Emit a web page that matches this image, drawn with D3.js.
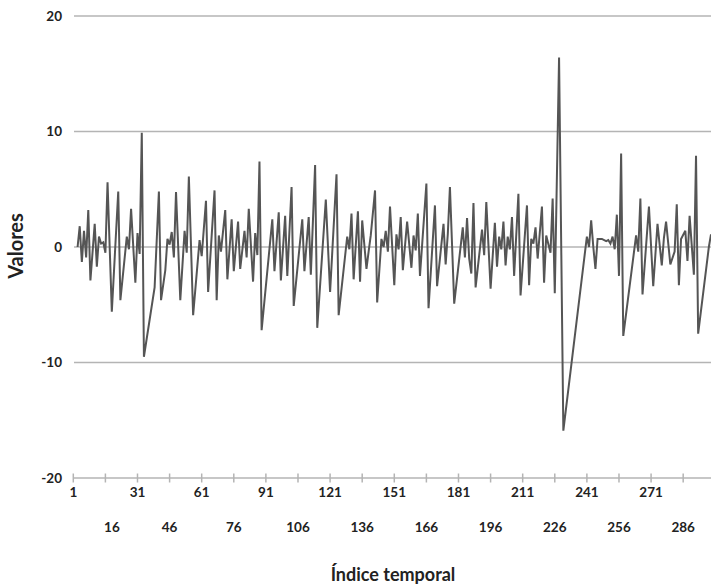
<!DOCTYPE html>
<html><head><meta charset="utf-8">
<script src="https://cdn.jsdelivr.net/npm/d3@7"></script>
<style>body{margin:0;background:#fff}svg{display:block}</style>
</head><body>
<svg id="c" width="711" height="587"></svg>
<script>
const indices = [3,4,5,6,7,8,9,11,12,13,14,15,16,17,19,22,23,26,27,28,30,31,32,33,34,
39,41,42,44,45,46,47,48,49,51,53,54,55,57,60,61,63,64,67,68,
69,70,72,73,75,76,78,79,81,82,83,85,86,87,88,89,94,95,97,98,100,101,103,104,
108,109,111,112,114,115,119,121,124,125,129,130,131,132,134,135,136,138,
139,140,142,143,145,146,147,148,149,151,152,153,154,155,157,159,160,161,162,163,166,167,170,171,
174,175,176,177,179,183,184,185,186,187,188,189,192,193,194,196,198,199,200,201,202,203,204,205,206,207,
209,210,213,214,215,216,217,218,220,221,222,224,225,226,228,230,
241,242,243,244,245,246,248,250,251,252,253,254,255,256,257,258,264,265,266,267,270,272,274,
276,277,278,280,282,283,284,285,287,288,289,291,292,293,298,299];
const values = [0,1.8,-1.3,1.4,-0.9,3.2,-2.9,2.0,-1.7,0.9,0.3,0.4,-0.5,5.6,-5.6,4.8,-4.6,0.9,-0.2,3.3,-3.1,1.2,-0.6,9.9,-9.5,
-3.5,4.8,-4.6,-2.0,0.7,0.2,1.3,-0.9,4.75,-4.6,1.4,-0.5,6.1,-5.9,0.6,-0.8,4.0,-3.9,4.9,-4.6,
1.0,-0.4,3.2,-2.8,2.4,-2.1,2.2,-1.9,1.4,-0.9,3.3,-3.0,1.2,-0.7,7.4,-7.2,2.4,-2.1,3.0,-2.9,2.7,-2.5,5.2,-5.1,
2.4,-2.1,2.6,-2.4,7.1,-7.0,4.1,-3.9,6.3,-5.9,0.9,-0.2,2.9,-2.8,3.1,-3.0,2.3,-1.9,
-0.4,1.0,4.9,-4.8,0.7,0.0,1.4,-0.4,3.5,-3.3,1.1,-0.2,2.6,-2.0,2.2,-1.8,1.0,-0.3,2.9,-2.5,5.5,-5.3,3.6,-3.4,
2.0,-1.5,1.1,5.2,-4.9,1.7,-0.9,2.5,-1.0,-2.3,3.8,-3.5,1.5,-0.7,3.9,-3.6,2.1,-1.7,0.9,-0.2,2.2,-1.6,0.9,-0.2,2.6,-2.5,
4.6,-4.2,3.6,-3.3,0.7,0.3,1.7,-1.0,3.5,-3.1,1.0,-0.5,4.2,-4.0,16.4,-15.9,
0.9,0.0,2.3,0.0,-1.9,0.7,0.7,0.5,0.6,0.3,0.9,-0.2,2.8,-2.5,8.1,-7.7,1.0,-0.4,4.2,-4.1,3.5,-3.4,2.0,
-1.6,0.8,2.2,-1.5,-0.4,3.7,-3.3,0.7,1.4,-1.2,2.7,-2.4,7.9,-7.5,0.0,1.1];
const xTicks = [1,16,31,46,61,76,91,106,121,136,151,166,181,196,211,226,241,256,271,286];
const yTicks = [-20,-10,0,10,20];
const xTitle = "Índice temporal";
const yTitle = "Valores";

const svg = d3.select("#c");
const font = "Lato, 'Open Sans', sans-serif";
const x = d3.scaleLinear().domain([1, 299]).range([73.3, 711]);
const y = d3.scaleLinear().domain([-20, 20]).range([478, 16]);

// grid
svg.append("g").selectAll("line").data(yTicks).join("line")
  .attr("x1", 74).attr("x2", 711)
  .attr("y1", d => y(d)).attr("y2", d => y(d))
  .attr("stroke", "#b4b4b4").attr("stroke-width", 1.5);

// y labels
svg.append("g").selectAll("text").data(yTicks).join("text")
  .attr("x", 62).attr("y", d => y(d)).attr("dy", "0.35em")
  .attr("text-anchor", "end").attr("font-family", font).attr("font-weight", 700)
  .attr("font-size", 13.5).attr("fill", "#222").text(d => d);

// x axis ticks
svg.append("g").selectAll("line").data(xTicks).join("line")
  .attr("x1", d => x(d)).attr("x2", d => x(d))
  .attr("y1", y(-20) - 4.5).attr("y2", y(-20) + 4.5)
  .attr("stroke", "#b4b4b4").attr("stroke-width", 1.5);
svg.append("g").selectAll("text").data(xTicks).join("text")
  .attr("x", d => x(d) + (d === 16 ? 6.5 : 0)).attr("y", (d, i) => i % 2 === 0 ? 497 : 532)
  .attr("text-anchor", "middle").attr("font-family", font).attr("font-weight", 700)
  .attr("font-size", 13.5).attr("fill", "#222").text(d => d);

// line
const pts = indices.map((d, i) => [d, values[i]]);
svg.append("path").datum(pts)
  .attr("d", d3.line().x(d => x(d[0])).y(d => y(d[1])))
  .attr("fill", "none").attr("stroke", "#555").attr("stroke-width", 2)
  .attr("stroke-linejoin", "miter").attr("stroke-miterlimit", 3);

// titles
svg.append("text").attr("x", 393).attr("y", 581).attr("text-anchor", "middle")
  .attr("font-family", font).attr("font-weight", 700).attr("font-size", 18)
  .attr("fill", "#222").text(xTitle);
svg.append("text").attr("transform", "translate(23,246) rotate(-90)")
  .attr("text-anchor", "middle").attr("font-family", font).attr("font-weight", 700)
  .attr("font-size", 20).attr("fill", "#222").text(yTitle);
</script>
</body></html>
